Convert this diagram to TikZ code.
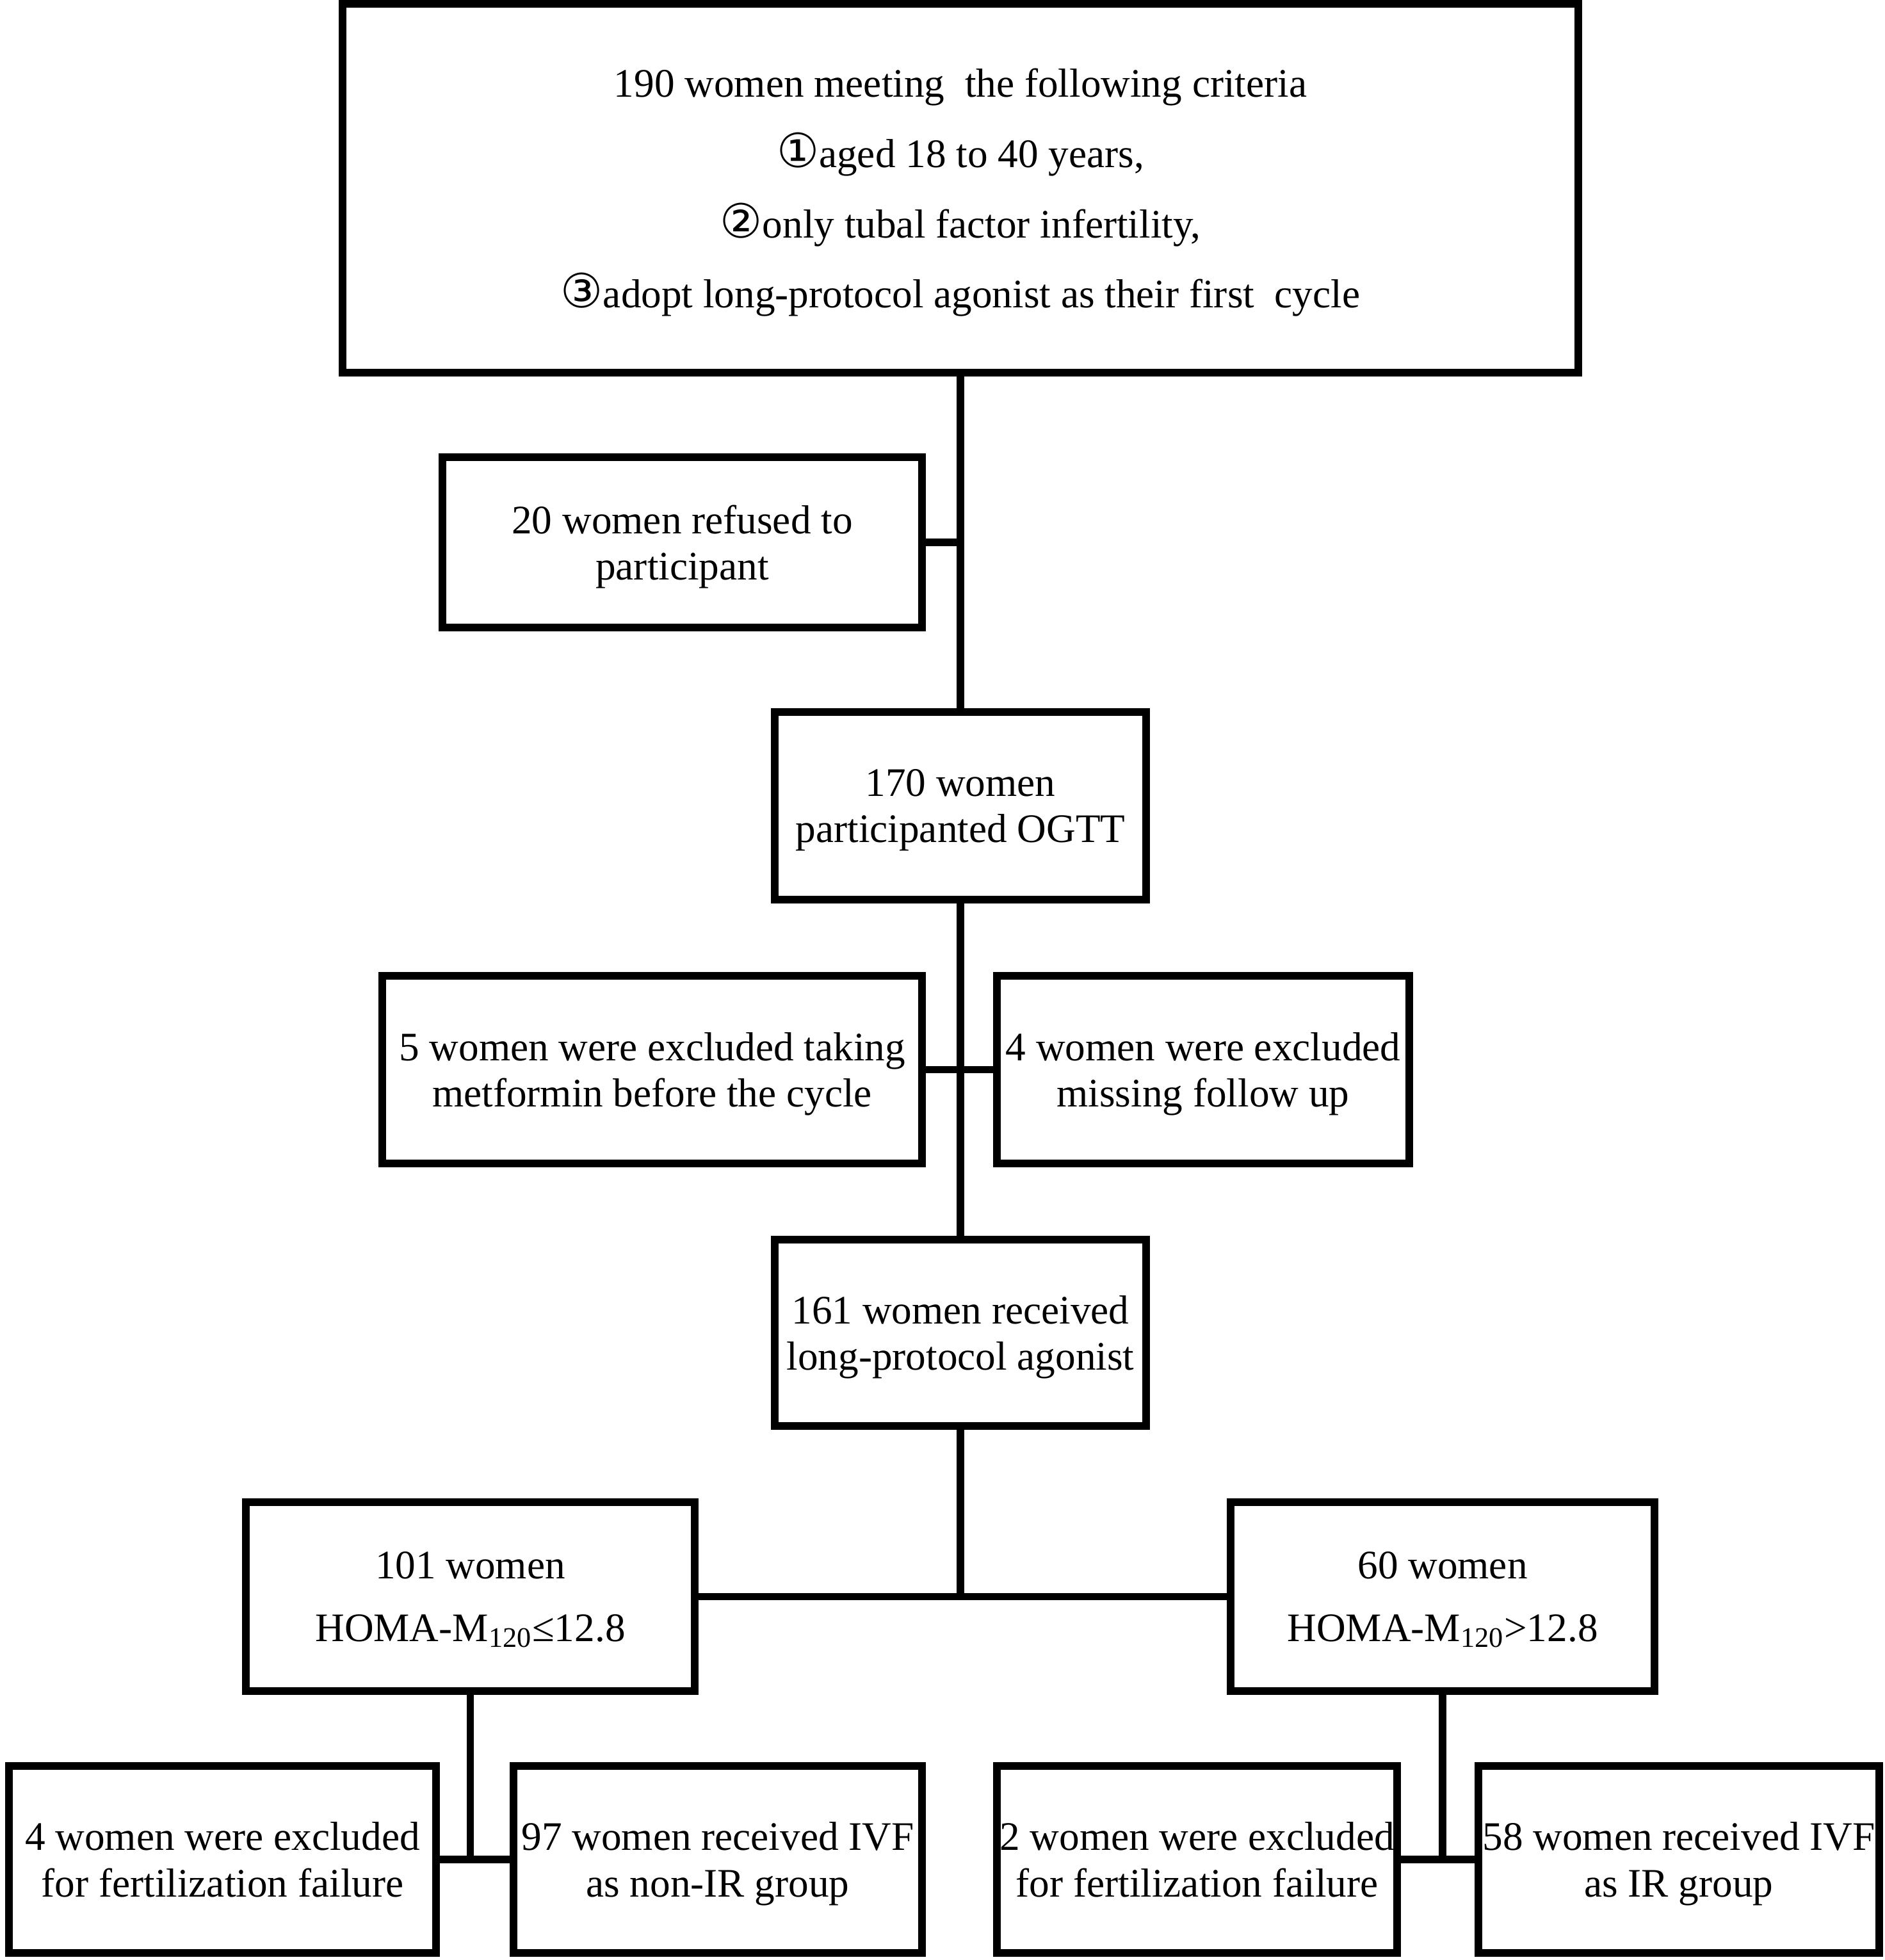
\documentclass[tikz,border=0pt]{standalone}
\usepackage{fontspec}
\setmainfont{Liberation Serif}
\newfontfamily\circfont{DejaVu Sans}
\usepackage{tikz}
\usetikzlibrary{positioning,calc}

\newcommand{\circnum}[1]{{\circfont\fontsize{21}{20}\selectfont #1}}

\tikzset{
  flowbox/.style={draw, line width=3.4pt, align=center, inner sep=0pt,
    font=\fontsize{18}{20.5}\selectfont, text depth=-2.7pt},
  link/.style={line width=3.2pt}
}

\begin{document}
\begin{tikzpicture}
\useasboundingbox (0,0) rectangle (29.43,-30.61);

\node[flowbox, minimum width=19.3cm, minimum height=5.76cm,
  font=\fontsize{18}{31.2}\selectfont, text depth=-3.6pt] (crit) at (15.0,-2.94)
  {190 women meeting\ \ the following criteria\\
   \circnum{①}aged 18 to 40 years,\\
   \circnum{②}only tubal factor infertility,\\
   \circnum{③}adopt long-protocol agonist as their first\ \ cycle};

\node[flowbox, minimum width=7.49cm, minimum height=2.66cm] (refuse) at (10.655,-8.47)
  {20 women refused to\\ participant};
\node[flowbox, minimum width=5.8cm, minimum height=2.93cm] (ogtt) at (15.0,-12.585)
  {170 women\\ participanted OGTT};

\node[flowbox, minimum width=8.43cm, minimum height=2.93cm] (metf) at (10.185,-16.705)
  {5 women were excluded taking\\ metformin before the cycle};
\node[flowbox, minimum width=6.44cm, minimum height=2.93cm] (follow) at (18.79,-16.705)
  {4 women were excluded\\ missing follow up};

\node[flowbox, minimum width=5.8cm, minimum height=2.91cm] (agon) at (15.0,-20.815)
  {161 women received\\ long-protocol agonist};

\node[flowbox, minimum width=7.01cm, minimum height=2.95cm,
  font=\fontsize{18}{27.8}\selectfont] (homaL) at (7.345,-24.935)
  {101 women\\ HOMA-M\textsubscript{120}≤12.8};
\node[flowbox, minimum width=6.62cm, minimum height=2.95cm,
  font=\fontsize{18}{27.8}\selectfont] (homaR) at (22.53,-24.935)
  {60 women\\ HOMA-M\textsubscript{120}>12.8};

\node[flowbox, minimum width=6.67cm, minimum height=2.92cm] (exclL) at (3.475,-29.04)
  {4 women were excluded\\ for fertilization failure};
\node[flowbox, minimum width=6.38cm, minimum height=2.92cm] (ivfL) at (11.21,-29.04)
  {97 women received IVF\\ as non-IR group};
\node[flowbox, minimum width=6.25cm, minimum height=2.92cm] (exclR) at (18.695,-29.04)
  {2 women were excluded\\ for fertilization failure};
\node[flowbox, minimum width=6.26cm, minimum height=2.92cm] (ivfR) at (26.22,-29.04)
  {58 women received IVF\\ as IR group};

% spine
\draw[link] (crit.south) -- (ogtt.north);
\draw[link] (refuse.east) -- (refuse.east -| crit.south);
\draw[link] (ogtt.south) -- (agon.north);
\draw[link] (metf.east) -- (follow.west);
\draw[link] (agon.south) -- (agon.south |- homaL.east);
\draw[link] (homaL.east) -- (homaR.west);

% bottom branches
\draw[link] (homaL.south) -- (homaL.south |- exclL.east);
\draw[link] (exclL.east) -- (ivfL.west);
\draw[link] (homaR.south) -- (homaR.south |- exclR.east);
\draw[link] (exclR.east) -- (ivfR.west);
\end{tikzpicture}
\end{document}
